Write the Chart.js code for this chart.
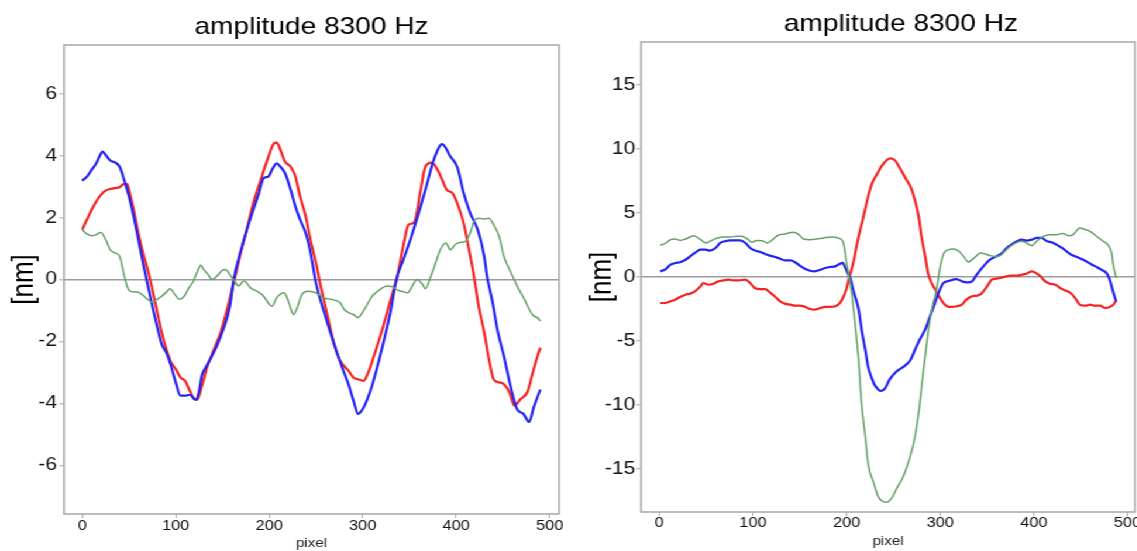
<!DOCTYPE html>
<html>
<head>
<meta charset="utf-8">
<title>amplitude 8300 Hz</title>
<script src="https://cdn.jsdelivr.net/npm/chart.js@4.4.1/dist/chart.umd.min.js"></script>
<style>
  html, body { margin: 0; padding: 0; background: #fff; overflow: hidden; }
  /* the source figure is stretched sideways, so the stage is stretched the same way */
  #stage { position: absolute; left: 0; top: 0; width: 972px; height: 551px; transform: scaleX(1.17); transform-origin: 0 0; }
  .panel { position: absolute; top: 0; height: 551px; }
  #leftBox { left: 0; width: 487px; }
  #rightBox { left: 487px; width: 566px; }
</style>
</head>
<body>
<div id="stage">
  <div class="panel" id="leftBox"><canvas id="leftChart"></canvas></div>
  <div class="panel" id="rightBox"><canvas id="rightChart"></canvas></div>
</div>
<script>
const xTicks = [0, 100, 200, 300, 400, 500];
const leftYTicks = [-6, -4, -2, 0, 2, 4, 6];
const rightYTicks = [-15, -10, -5, 0, 5, 10, 15];

// left panel
const leftRedX = [0,5,10,15,20,25,30,35,40,45,48,50,55,60,65,70,75,80,85,90,95,100,105,110,115,120,123,128,134,141,148,155,162,169,176,183,191,198,205,208,212,217,223,228,233,239,244,250,255,260,270,275,280,285,290,295,301,306,312,320,330,337,344,349,355,362,367,374,380,385,390,396,401,408,413,419,424,430,435,440,446,451,457,462,469,476,481,487,490];
const leftRedY = [1.61,1.93,2.25,2.52,2.73,2.87,2.92,2.95,2.98,3.09,3.08,2.89,2.25,1.5,0.86,0.32,-0.32,-1.02,-1.71,-2.25,-2.68,-2.89,-3.16,-3.27,-3.59,-3.86,-3.88,-3.43,-2.79,-2.25,-1.71,-0.96,-0.11,0.8,1.61,2.47,3.22,3.86,4.39,4.42,4.18,3.8,3.64,3.32,2.68,2.04,1.29,0.54,-0.21,-0.86,-2.14,-2.57,-2.79,-2.95,-3.16,-3.22,-3.27,-3.0,-2.47,-1.71,-0.64,0.11,1.18,1.77,1.84,2.89,3.64,3.77,3.54,3.22,2.89,2.79,2.47,1.82,1.07,0.11,-0.86,-1.71,-2.57,-3.22,-3.32,-3.38,-3.64,-4.07,-3.86,-3.64,-3.11,-2.47,-2.2];

const leftBlueX = [0,5,10,15,20,22,25,30,35,40,45,50,55,60,65,70,75,80,85,90,95,100,105,110,115,120,122,125,128,132,137,144,151,158,162,169,176,183,189,194,199,203,208,212,217,223,228,233,239,244,250,260,270,280,285,290,295,300,305,310,320,330,336,343,351,362,369,376,385,394,401,408,415,423,430,433,439,444,451,458,465,472,478,483,490];
const leftBlueY = [3.19,3.32,3.54,3.75,4.07,4.13,4.02,3.84,3.78,3.64,3.2,2.68,2.04,1.29,0.54,-0.16,-0.86,-1.5,-2.09,-2.36,-2.79,-3.32,-3.75,-3.75,-3.72,-3.86,-3.88,-3.6,-3.1,-2.84,-2.57,-2.14,-1.6,-0.86,0,0.86,1.6,2.25,2.79,3.27,3.32,3.54,3.75,3.64,3.43,2.89,2.36,1.93,1.5,0.9,-0.11,-1.18,-2.14,-3.0,-3.4,-3.9,-4.34,-4.18,-3.86,-3.43,-2.3,-1.0,0,0.6,1.29,2.36,3.11,3.86,4.37,3.96,3.64,2.79,2.14,1.61,0.75,0.11,-0.75,-1.61,-2.47,-3.43,-4.18,-4.34,-4.6,-4.12,-3.55];

const leftGreenX = [0,5,10,15,20,25,30,35,40,45,50,55,60,65,70,75,80,85,90,94,99,104,109,114,119,124,127,130,134,139,144,150,153,159,164,167,173,180,187,194,200,203,208,216,221,226,230,235,241,248,253,258,266,273,276,280,285,290,295,300,305,310,316,321,326,332,337,342,348,353,358,364,367,373,378,383,389,394,399,405,410,415,419,424,430,435,441,446,451,457,462,467,473,478,483,487,490];
const leftGreenY = [1.61,1.47,1.41,1.45,1.52,1.29,0.96,0.86,0.75,0.11,-0.35,-0.4,-0.41,-0.51,-0.64,-0.73,-0.64,-0.54,-0.41,-0.3,-0.48,-0.64,-0.54,-0.27,-0.05,0.32,0.46,0.32,0.19,0,0.11,0.3,0.32,0.11,-0.09,-0.21,-0.05,-0.27,-0.38,-0.54,-0.8,-0.86,-0.59,-0.43,-0.75,-1.13,-0.91,-0.48,-0.38,-0.41,-0.48,-0.59,-0.64,-0.7,-0.75,-0.96,-1.07,-1.13,-1.23,-1.05,-0.8,-0.54,-0.38,-0.27,-0.21,-0.24,-0.34,-0.38,-0.43,-0.21,0,-0.16,-0.3,0.11,0.54,0.96,1.18,0.96,1.13,1.2,1.23,1.5,1.88,1.98,1.95,1.98,1.71,1.39,0.75,0.32,0,-0.32,-0.64,-0.96,-1.18,-1.23,-1.34];

// right panel
const rightRedX = [1,6,12,17,22,28,33,38,44,47,52,58,63,69,74,79,85,92,97,102,108,113,118,124,129,134,140,145,150,156,161,166,172,177,182,188,193,196,200,203,207,212,218,223,227,232,237,243,247,252,257,264,269,273,277,280,284,287,291,296,302,307,312,318,323,328,334,339,344,350,355,360,366,371,376,382,387,392,398,401,407,412,417,423,428,433,439,444,449,455,460,465,471,476,481,485,488];
const rightRedY = [-2.03,-2.03,-1.9,-1.77,-1.56,-1.38,-1.3,-1.12,-0.73,-0.47,-0.6,-0.52,-0.34,-0.26,-0.21,-0.26,-0.26,-0.21,-0.47,-0.86,-0.94,-0.94,-1.2,-1.56,-1.9,-2.08,-2.16,-2.24,-2.24,-2.34,-2.5,-2.55,-2.42,-2.34,-2.34,-2.29,-2.03,-1.64,-0.9,0.0,1.07,2.89,4.71,6.28,7.3,7.97,8.62,9.14,9.27,9.09,8.49,7.58,6.93,6.0,4.71,3.15,1.59,0.29,-0.5,-1.15,-1.9,-2.28,-2.34,-2.29,-2.16,-1.77,-1.51,-1.46,-1.3,-0.73,-0.21,-0.13,-0.03,0.05,0.1,0.1,0.18,0.26,0.44,0.36,0.05,-0.34,-0.52,-0.6,-0.86,-1.04,-1.25,-1.64,-2.16,-2.24,-2.16,-2.24,-2.24,-2.42,-2.34,-2.16,-1.82];

const rightBlueX = [1,6,12,17,22,28,33,38,44,49,54,60,65,70,76,81,86,92,97,102,108,113,118,124,129,134,140,145,150,156,161,166,172,177,182,188,193,196,198,202,204,207,213,216,220,223,229,234,237,241,246,253,261,268,273,278,284,289,294,298,303,310,317,324,329,334,339,346,353,360,366,371,376,382,387,392,398,403,408,414,419,424,430,435,440,446,451,456,462,467,472,478,481,484,487,488];
const rightBlueY = [0.44,0.57,0.96,1.09,1.15,1.35,1.61,1.88,2.14,2.14,2.06,2.27,2.66,2.79,2.86,2.86,2.86,2.66,2.27,2.08,1.95,1.8,1.67,1.56,1.43,1.3,1.3,1.15,0.89,0.63,0.49,0.44,0.57,0.7,0.78,0.83,1.04,1.1,0.83,0.18,-0.1,-1.0,-2.6,-4.1,-5.7,-7.0,-8.3,-8.8,-8.9,-8.7,-8.0,-7.4,-7.0,-6.5,-5.7,-4.9,-4.1,-3.1,-2.1,-1.28,-0.5,-0.29,-0.16,-0.36,-0.42,-0.34,0.18,0.83,1.35,1.61,1.88,2.27,2.53,2.79,2.92,2.84,2.92,3.05,3.05,2.79,2.71,2.53,2.27,2.0,1.74,1.56,1.41,1.22,0.96,0.78,0.57,0.26,-0.21,-0.99,-1.72,-1.9];

const rightGreenX = [1,6,12,17,22,28,37,44,50,56,62,69,76,83,88,94,99,104,110,115,120,127,134,143,149,154,161,168,175,184,191,196,198,200,202,205,209,213,216,220,223,229,234,239,243,248,253,261,268,273,277,281,285,288,292,296,300,304,309,314,320,325,330,336,343,348,353,359,364,369,375,382,387,392,398,403,410,417,424,431,437,442,449,455,460,467,474,479,483,485,488];
const rightGreenY = [2.5,2.6,2.92,2.97,2.86,2.97,3.23,2.92,2.66,2.86,3.05,3.13,3.13,3.18,3.18,2.97,2.71,2.86,2.84,2.66,2.86,3.26,3.36,3.49,3.31,2.97,2.92,2.97,3.05,3.13,3.05,2.79,2.14,1.09,0.3,-1.0,-3.6,-6.7,-9.9,-12.5,-14.6,-16.1,-17.2,-17.55,-17.6,-17.3,-16.6,-15.5,-14.0,-12.5,-10.6,-8.0,-5.5,-3.8,-2.2,-1.0,0.83,1.88,2.14,2.19,2.01,1.61,1.17,1.48,1.87,1.8,1.67,1.61,1.67,2.01,2.4,2.71,2.79,2.66,2.45,2.79,3.18,3.31,3.31,3.39,3.23,3.31,3.83,3.7,3.57,3.18,2.79,2.53,1.88,0.83,-0.08];

const RED = 'rgb(245,35,35)';
const BLUE = 'rgb(35,35,245)';
const GREEN = 'rgb(100,162,100)';
const FRAME = '#a6a6a6';

Chart.defaults.font.family = '"Liberation Sans", Arial, sans-serif';
Chart.defaults.color = '#111';

// grey box round the plot area
const framePlugin = {
    id: 'frame',
    beforeDatasetsDraw(chart) {
        const { ctx, chartArea: a } = chart;
        ctx.save();
        ctx.strokeStyle = FRAME;
        ctx.lineWidth = 1.5;
        ctx.strokeRect(a.left, a.top, a.right - a.left, a.bottom - a.top);
        ctx.restore();
    }
};

function series(label, xs, ys, color, width) {
    return {
        label: label,
        data: xs.map((x, i) => ({ x: x, y: ys[i] })),
        borderColor: color,
        borderWidth: width,
        pointRadius: 0,
        cubicInterpolationMode: 'monotone',
        xAxisID: 'x',
        yAxisID: 'y'
    };
}

function makeChart(id, o) {
    const scales = {
        x: {
            type: 'linear',
            min: -19.5,
            max: o.xMax,
            afterBuildTicks: s => { s.ticks = xTicks.map(v => ({ value: v })); },
            afterFit: s => { s.height = o.xHeight; },
            ticks: { font: { size: 14, lineHeight: 1 }, padding: o.xTickPad, maxRotation: 0 },
            grid: { drawOnChartArea: false, color: FRAME, tickLength: 4 },
            border: { display: false },
            title: { display: true, text: 'pixel', color: '#222', font: { size: 13, lineHeight: 1 }, padding: { top: 0, bottom: o.xTitlePad } }
        },
        y: {
            type: 'linear',
            min: -o.yLim,
            max: o.yLim,
            afterBuildTicks: s => { s.ticks = o.yTicks.map(v => ({ value: v })); },
            afterFit: s => { s.width = o.yWidth; },
            ticks: { font: { size: 18 }, padding: o.yTickPad },
            grid: {
                drawOnChartArea: true,
                color: c => (c.tick && c.tick.value === 0) ? '#9c9c9c' : 'rgba(0,0,0,0)',
                lineWidth: 1.6,
                tickColor: FRAME,
                tickWidth: 1,
                tickLength: 4
            },
            border: { display: false },
            title: { display: true, text: '[nm]', color: '#000', font: { size: 26 }, padding: { top: o.yTitlePad, bottom: 0 } }
        }
    };
    if (o.spareWidth) {
        // empty axis on the right, only there to keep the title where it sits in the source
        scales.spare = {
            type: 'linear',
            position: 'right',
            ticks: { display: false },
            grid: { display: false },
            border: { display: false },
            afterFit: s => { s.width = o.spareWidth; }
        };
    }

    return new Chart(document.getElementById(id), {
        type: 'line',
        data: { datasets: o.datasets },
        options: {
            responsive: true,
            maintainAspectRatio: false,
            animation: false,
            layout: { padding: { left: 0, right: o.padRight, top: 0, bottom: 0 } },
            plugins: {
                legend: { display: false },
                tooltip: { enabled: false },
                title: {
                    display: true,
                    text: 'amplitude 8300 Hz',
                    color: '#000',
                    fullSize: o.titleFull,
                    font: { size: 24, weight: 'normal' },
                    padding: { top: o.titleTop, bottom: o.titleBottom }
                }
            },
            scales: scales
        },
        plugins: [framePlugin]
    });
}

makeChart('leftChart', {
    datasets: [
        series('green', leftGreenX, leftGreenY, GREEN, 1.5),
        series('blue', leftBlueX, leftBlueY, BLUE, 2.2),
        series('red', leftRedX, leftRedY, RED, 2.2)
    ],
    xMax: 510,
    yTicks: leftYTicks,
    yLim: 7.57,
    yWidth: 54.7,
    yTickPad: 2,
    yTitlePad: 5,
    xHeight: 37,
    xTickPad: 1,
    xTitlePad: 1.5,
    padRight: 9.2,
    titleFull: false,
    titleTop: 12.8,
    titleBottom: 3.4
});

makeChart('rightChart', {
    datasets: [
        series('green', rightGreenX, rightGreenY, GREEN, 1.5),
        series('blue', rightBlueX, rightBlueY, BLUE, 2.2),
        series('red', rightRedX, rightRedY, RED, 2.2)
    ],
    xMax: 508,
    yTicks: rightYTicks,
    yLim: 18.36,
    yWidth: 60.9,
    yTickPad: 1,
    yTitlePad: 12.3,
    xHeight: 39,
    xTickPad: 0,
    xTitlePad: 3.5,
    padRight: 0,
    spareWidth: 82.9,
    titleFull: true,
    titleTop: 10.3,
    titleBottom: 2.9
});
</script>
</body>
</html>
